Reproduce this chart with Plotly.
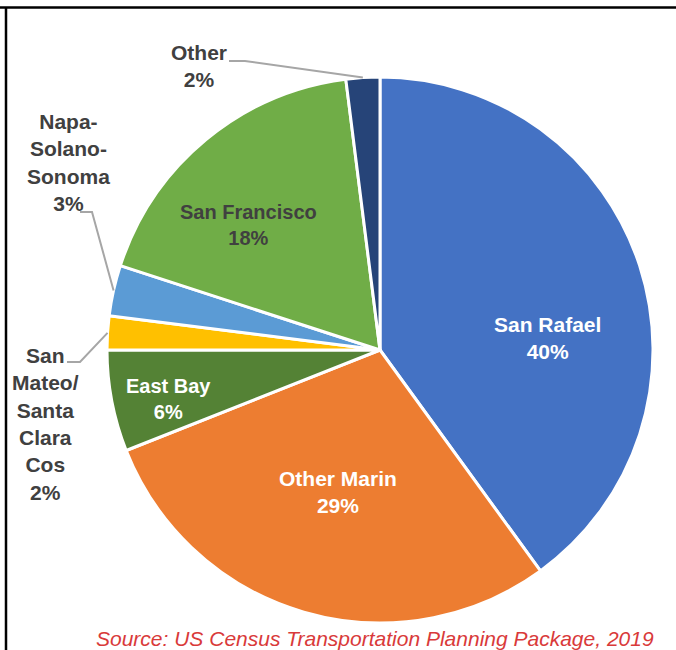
import math
import plotly.graph_objects as go

# ---- data ----
categories = ["San Rafael", "Other Marin", "East Bay", "San Mateo/Santa Clara Cos",
              "Napa-Solano-Sonoma", "San Francisco", "Other"]
values = [40, 29, 6, 2, 3, 18, 2]
label_texts = ["San Rafael<br>40%", "Other Marin<br>29%", "East Bay<br>6%",
               "San<br>Mateo/<br>Santa<br>Clara<br>Cos<br>2%",
               "Napa-<br>Solano-<br>Sonoma<br>3%", "San Francisco<br>18%", "Other<br>2%"]
colors = ["#4472C4", "#ED7D31", "#548235", "#FFC000", "#5B9BD5", "#70AD47", "#264478"]
source_text = "Source: US Census Transportation Planning Package, 2019"

W, H = 676, 650
CX, CY, R = 380, 350, 273   # pie centre / radius in pixels


def px(x):
    return x / W


def py(y):
    return 1 - y / H


FONT = "Liberation Sans Narrow, Arial Narrow, Liberation Sans, Arial, sans-serif"
DARK = "#404040"

fig = go.Figure(go.Pie(
    labels=categories, values=values, sort=False, direction="clockwise", rotation=0,
    marker=dict(colors=colors, line=dict(color="white", width=3)),
    textinfo="none", hoverinfo="none", showlegend=False,
    domain=dict(x=[px(CX - R), px(CX + R)], y=[py(CY + R), py(CY - R)]),
))

# label positions (pixels) and styles
label_pos = [(547, 338), (338, 492), (168, 399), (45, 424), (68, 163), (248, 225), (199, 66)]
label_col = ["white", "white", "white", DARK, DARK, DARK, DARK]
label_size = [21, 21, 20, 21, 21, 20, 21]
annotations = []
for t, (x, y), c, s in zip(label_texts, label_pos, label_col, label_size):
    annotations.append(dict(text="<b>" + t + "</b>", x=px(x), y=py(y), xref="paper", yref="paper",
                            xanchor="center", yanchor="middle", showarrow=False,
                            font=dict(family=FONT, size=s, color=c)))

annotations.append(dict(text="<i>" + source_text + "</i>", x=px(656), y=py(638),
                        xref="paper", yref="paper", xanchor="right", yanchor="middle",
                        showarrow=False,
                        font=dict(family="Liberation Sans, Arial, sans-serif", size=21, color="#D93A3A")))

# leader lines: slice mid-angle point on rim -> elbow -> label
total = sum(values)
cum = 0
mids = []
for v in values:
    mids.append((cum + v / 2) / total * 2 * math.pi)
    cum += v

leader = {6: [(229, 61), (245, 61)], 4: [(80, 212), (92, 212)], 3: [(67, 362), (80, 362)]}
shapes = []
for i, pts in leader.items():
    a = mids[i]
    rx, ry = CX + R * math.sin(a), CY - R * math.cos(a)
    path_pts = pts + [(rx, ry)]
    d = "M " + " L ".join(f"{px(x)},{py(y)}" for x, y in path_pts)
    shapes.append(dict(type="path", path=d, xref="paper", yref="paper",
                       line=dict(color="#A6A6A6", width=2)))

# chart frame (top and left edges)
shapes.append(dict(type="line", x0=0, x1=1, y0=py(7.5), y1=py(7.5), xref="paper", yref="paper",
                   line=dict(color="black", width=2.5)))
shapes.append(dict(type="line", x0=px(6), x1=px(6), y0=py(7.5), y1=0, xref="paper", yref="paper",
                   line=dict(color="black", width=2.5)))

fig.update_layout(width=W, height=H, margin=dict(l=0, r=0, t=0, b=0),
                  paper_bgcolor="white", plot_bgcolor="white",
                  annotations=annotations, shapes=shapes)
fig.write_html("out.html", config={"displayModeBar": False},
               post_script="document.body.style.margin='0';document.body.style.overflow='hidden';")
